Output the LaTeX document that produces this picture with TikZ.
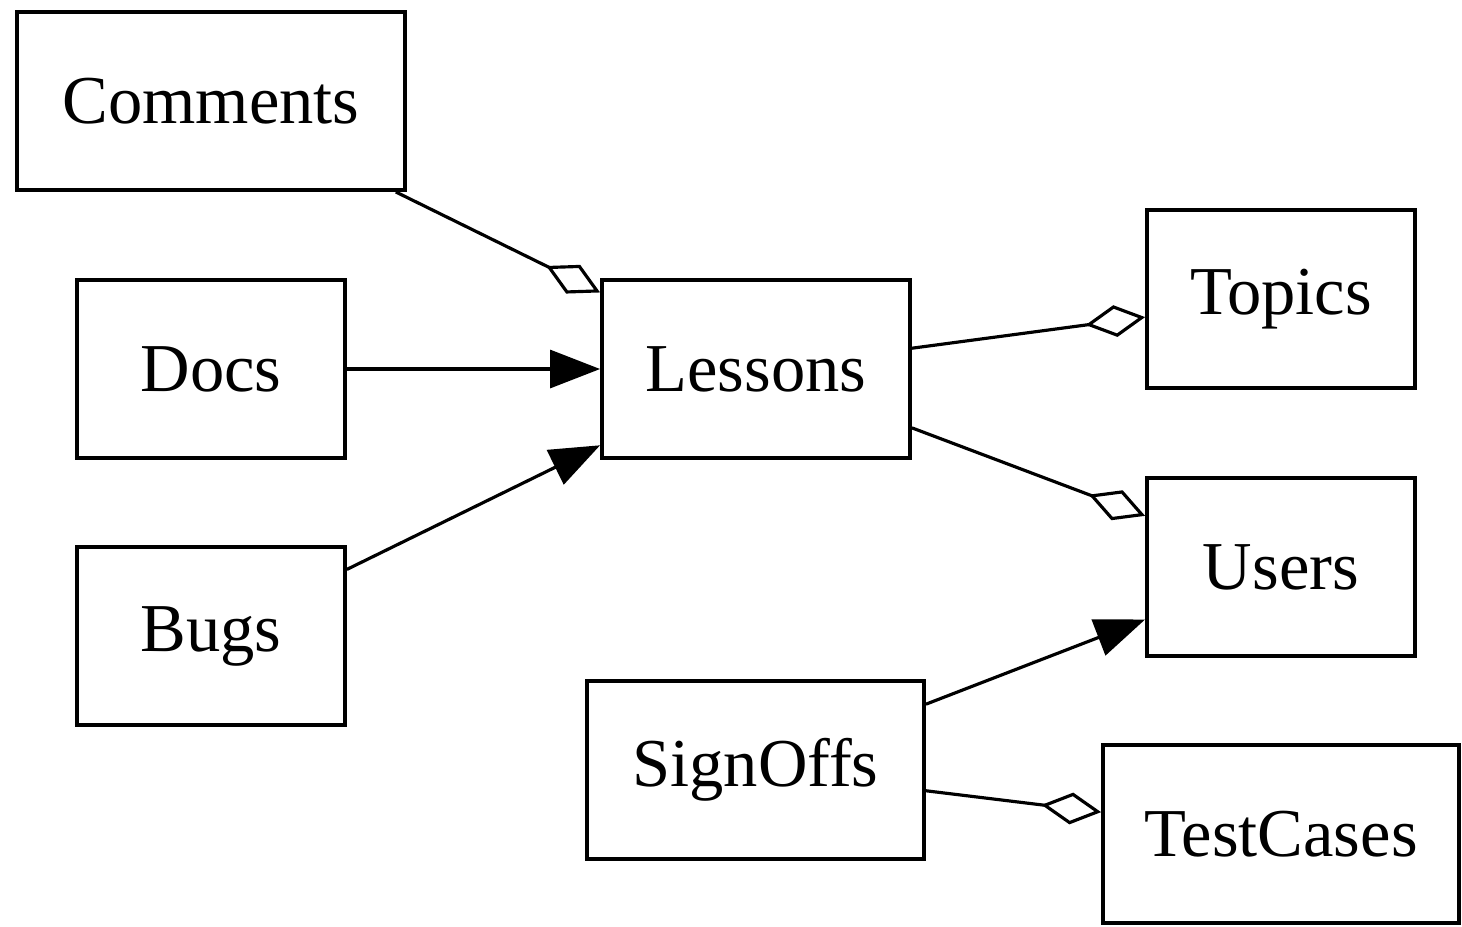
\documentclass[tikz,border=0pt]{standalone}
\usepackage{fontspec}
\setmainfont{Liberation Serif}
\usetikzlibrary{arrows.meta}

\tikzset{
  table/.style={draw, line width=1.1pt, minimum height=1.78cm, inner sep=0pt,
    font=\fontsize{19.5}{24}\selectfont},
  uses/.style={line width=0.9pt, -{Triangle[length=5mm, width=3.8mm]}},
  has/.style={line width=0.9pt, -{Diamond[open, length=6mm, width=3.2mm, line width=0.9pt]}}
}

\begin{document}
\begin{tikzpicture}
				\useasboundingbox (0,0) rectangle (14.62,-9.26);
				
				% left column
				\node[table, minimum width=3.88cm] (comments) at (2.11,-1.01) {Comments};
				\node[table, minimum width=2.68cm] (docs) at (2.11,-3.69) {Docs};
				\node[table, minimum width=2.68cm] (bugs) at (2.11,-6.36) {Bugs};
				
				% middle column
				\node[table, minimum width=3.08cm] (lessons) at (7.56,-3.69) {Lessons};
				\node[table, minimum width=3.37cm] (signoffs) at (7.555,-7.70) {SignOffs};
				
				% right column
				\node[table, minimum width=2.68cm] (topics) at (12.81,-2.99) {Topics};
				\node[table, minimum width=2.68cm] (users) at (12.81,-5.67) {Users};
				\node[table, minimum width=3.56cm] (testcases) at (12.81,-8.34) {TestCases};
				
				\draw[has] (comments) -- (lessons);
				\draw[uses] (docs) -- (lessons);
				\draw[uses] (bugs) -- (lessons);
				\draw[has] (lessons) -- (topics);
				\draw[has] (lessons) -- (users);
				\draw[uses] (signoffs) -- (users);
				\draw[has] (signoffs) -- (testcases);
			\end{tikzpicture}
\end{document}
